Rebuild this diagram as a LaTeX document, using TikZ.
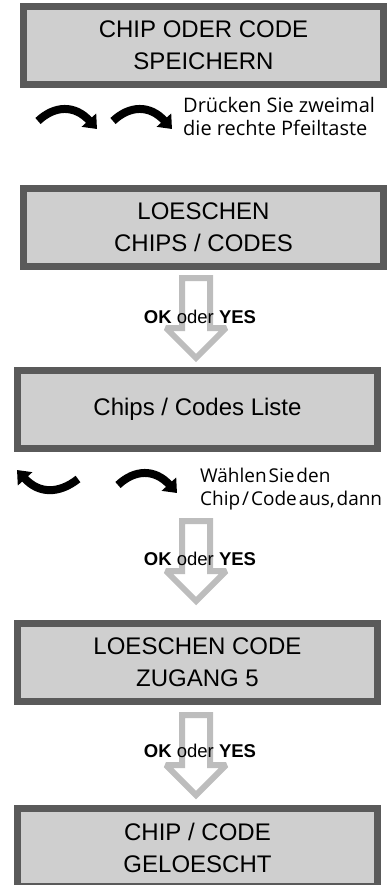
\documentclass[tikz,border=0pt]{standalone}
\usepackage{fontspec}
\setmainfont{Liberation Sans}
\newfontfamily\notefont{Open Sans}
\usetikzlibrary{arrows.meta,calc}
\definecolor{boxborder}{HTML}{5A5A5A}
\definecolor{boxfill}{HTML}{CFCFCF}
\definecolor{arrowgray}{HTML}{BDBDBD}
\newcommand{\tightspaces}{\spaceskip=0.1em\relax}
\begin{document}
\begin{tikzpicture}[x=1bp,y=-1bp,
  screen/.style={draw=boxborder, fill=boxfill, line width=7bp,
    minimum width=360bp, minimum height=78bp, inner sep=0pt,
    align=center, font=\fontsize{24bp}{32bp}\selectfont},
  notetext/.style={anchor=base west, inner sep=0pt, align=left},
  oktext/.style={anchor=base, inner sep=0pt,
    font=\fontsize{18.5bp}{20bp}\selectfont},
  bigarrow/.style={draw=arrowgray, fill=white, line width=6bp,
    line join=miter, miter limit=1.5},
  curvearrow/.style={draw=black, line width=8bp,
    -{Triangle[length=12bp,width=19bp]}}
]
\useasboundingbox (0,0) rectangle (387,885);

% screens
\node[screen] (b1) at (203.5,45.5) {CHIP ODER CODE\\SPEICHERN};
\node[screen] (b2) at (203.5,227.5) {LOESCHEN\\CHIPS / CODES};
\node[screen] (b3) at (197.5,409.5) {Chips / Codes Liste};
\node[screen] (b4) at (197.5,662.5) {LOESCHEN CODE\\ZUGANG 5};
\node[screen] (b5) at (197.5,847.5) {CHIP / CODE\\GELOESCHT};

% curved arrows, first step
\draw[curvearrow] (38,121) .. controls (55,105) and (75,105) .. (97,129);
\draw[curvearrow] (113,121) .. controls (130,105) and (150,105) .. (172,129);
\node[notetext, font=\notefont\fontsize{20bp}{22.5bp}\selectfont] (n1) at (183,135)
  {Drücken Sie zweimal\\die rechte Pfeiltaste};

% curved arrows, selection
\draw[curvearrow] (78,479) .. controls (59,494) and (39,494) .. (17,470);
\draw[curvearrow] (118,485) .. controls (135,469) and (155,469) .. (177,493);
\node[notetext, font=\notefont\fontsize{19bp}{23bp}\selectfont\tightspaces] (n2) at (200,505)
  {Wählen Sie den\\Chip / Code aus, dann};

% block arrows
\coordinate (a1) at (196,278);
\coordinate (a2) at (196,521);
\coordinate (a3) at (196,715);
\foreach \a in {a1,a2,a3}{
  \draw[bigarrow] ($(\a)+(-14,0)$) -- ($(\a)+(14,0)$) -- ($(\a)+(14,50)$)
    -- ($(\a)+(30,50)$) -- ($(\a)+(0,80)$) -- ($(\a)+(-30,50)$)
    -- ($(\a)+(-14,50)$) -- cycle;
}
\node[oktext] (ok1) at (200,323) {\textbf{OK} oder \textbf{YES}};
\node[oktext] (ok2) at (200,565) {\textbf{OK} oder \textbf{YES}};
\node[oktext] (ok3) at (200,757) {\textbf{OK} oder \textbf{YES}};
\end{tikzpicture}
\end{document}
